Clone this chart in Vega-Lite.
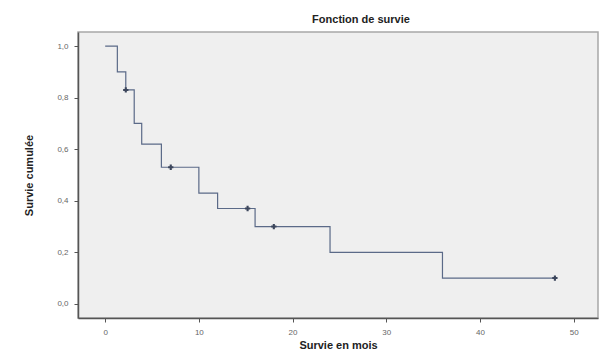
{
  "$schema": "https://vega.github.io/schema/vega-lite/v6.json",
  "width": 520,
  "height": 286,
  "autosize": "none",
  "padding": {"left": 78, "top": 32, "right": 17, "bottom": 35},
  "background": "white",
  "title": {
    "text": "Fonction de survie",
    "font": "Liberation Sans",
    "fontSize": 11,
    "fontWeight": "bold",
    "color": "#222222",
    "anchor": "middle",
    "dx": 23,
    "offset": 7
  },
  "datasets": {
    "curve": [
      {"t": 0, "s": 1.0},
      {"t": 1.3, "s": 0.90},
      {"t": 2.2, "s": 0.83},
      {"t": 3.1, "s": 0.70},
      {"t": 3.9, "s": 0.62},
      {"t": 6.0, "s": 0.53},
      {"t": 10.0, "s": 0.43},
      {"t": 12.0, "s": 0.37},
      {"t": 16.0, "s": 0.30},
      {"t": 24.0, "s": 0.20},
      {"t": 36.0, "s": 0.10},
      {"t": 48.0, "s": 0.10}
    ],
    "censored": [
      {"t": 2.2, "s": 0.83},
      {"t": 7.0, "s": 0.53},
      {"t": 15.2, "s": 0.37},
      {"t": 18.0, "s": 0.30},
      {"t": 48.0, "s": 0.10}
    ]
  },
  "layer": [
    {
      "data": {"name": "curve"},
      "mark": {"type": "line", "interpolate": "step-after", "color": "#5b6a88", "strokeWidth": 1.2},
      "encoding": {
        "x": {
          "field": "t", "type": "quantitative",
          "scale": {"domain": [-2.9, 52.6], "nice": false, "zero": false},
          "axis": {"values": [0, 10, 20, 30, 40, 50], "title": "Survie en mois", "grid": false}
        },
        "y": {
          "field": "s", "type": "quantitative",
          "scale": {"domain": [-0.055, 1.055], "nice": false, "zero": false},
          "axis": {
            "values": [0, 0.2, 0.4, 0.6, 0.8, 1.0],
            "labelExpr": "replace(format(datum.value, '.1f'), '.', ',')",
            "title": "Survie cumulée",
            "grid": false
          }
        }
      }
    },
    {
      "data": {"name": "censored"},
      "mark": {"type": "point", "shape": "cross", "filled": true, "size": 28, "color": "#3c465c", "opacity": 1},
      "encoding": {
        "x": {"field": "t", "type": "quantitative"},
        "y": {"field": "s", "type": "quantitative"}
      }
    }
  ],
  "config": {
    "view": {"fill": "#efefef", "stroke": "#a8a8a8", "strokeWidth": 1.5},
    "axis": {
      "domainColor": "#555555",
      "domainWidth": 1.5,
      "tickColor": "#555555",
      "tickSize": 4,
      "labelFont": "Liberation Sans",
      "labelFontSize": 8,
      "labelColor": "#666666",
      "labelPadding": 6,
      "titleFont": "Liberation Sans",
      "titleFontSize": 11,
      "titleFontWeight": "bold",
      "titleColor": "#222222"
    },
    "axisX": {"titlePadding": 3},
    "axisY": {"titlePadding": 22}
  }
}
